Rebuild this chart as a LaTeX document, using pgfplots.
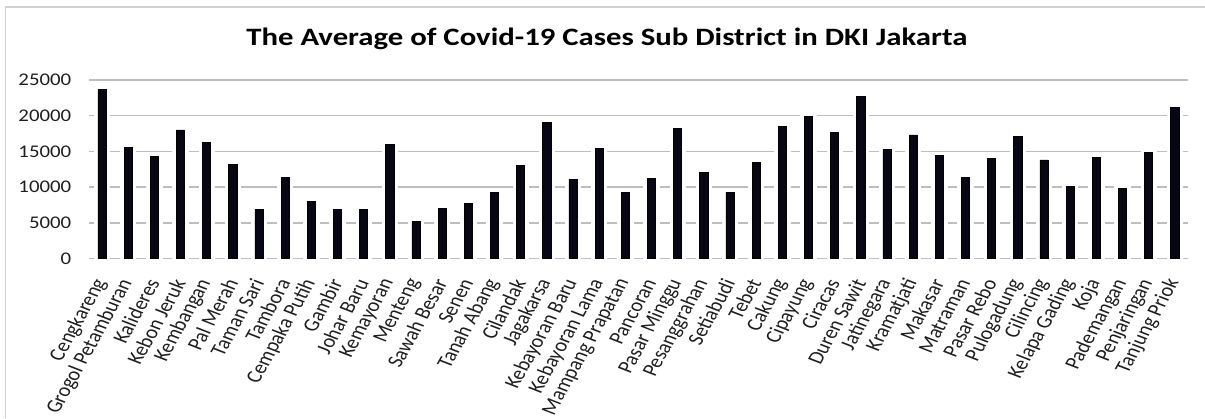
\documentclass[border=0pt]{standalone}
\usepackage{pgfplots}
\pgfplotsset{compat=1.18}
\usepackage{pgfplotstable}
\usepackage{fontspec}
\setmainfont{Carlito}

\definecolor{barfill}{RGB}{6,6,20}
\definecolor{gridgray}{RGB}{190,190,190}
\definecolor{framegray}{RGB}{208,208,208}
\definecolor{labelcol}{RGB}{30,30,30}

% average Covid-19 cases per sub district
\pgfplotstableread{
idx cases
0  23700
1  15600
2  14300
3  18000
4  16300
5  13200
6  6900
7  11400
8  8000
9  6900
10 6900
11 16000
12 5200
13 7000
14 7700
15 9300
16 13000
17 19100
18 11100
19 15400
20 9300
21 11200
22 18200
23 12100
24 9300
25 13500
26 18500
27 19950
28 17600
29 22700
30 15300
31 17300
32 14400
33 11350
34 14000
35 17150
36 13800
37 10150
38 14150
39 9750
40 14800
41 21150
}\cases

\begin{document}
\begin{tikzpicture}
\begin{axis}[
  scale only axis, width=1099pt, height=178.5pt,
  xmin=-0.5, xmax=41.5, ymin=0, ymax=25000,
  clip=false,
  axis line style={draw=none},
  major tick length=0pt,
  scaled y ticks=false,
  ymajorgrids, grid style={gridgray, line width=1.4pt},
  ytick={0,5000,10000,15000,20000,25000},
  yticklabels={0,5000,10000,15000,20000,25000},
  yticklabel style={xshift=-17.5pt, xscale=1.17, anchor=east, inner sep=0pt,
                    text=labelcol, font=\fontsize{17.8}{20}\selectfont},
  xtick={0,...,41},
  xticklabels={Cengkareng,Grogol Petamburan,Kalideres,Kebon Jeruk,Kembangan,
    Pal Merah,Taman Sari,Tambora,Cempaka Putih,Gambir,Johar Baru,Kemayoran,
    Menteng,Sawah Besar,Senen,Tanah Abang,Cilandak,Jagakarsa,Kebayoran Baru,
    Kebayoran Lama,Mampang Prapatan,Pancoran,Pasar Minggu,Pesanggrahan,
    Setiabudi,Tebet,Cakung,Cipayung,Ciracas,Duren Sawit,Jatinegara,Kramatjati,
    Makasar,Matraman,Pasar Rebo,Pulogadung,Cilincing,Kelapa Gading,Koja,
    Pademangan,Penjaringan,Tanjung Priok},
  xticklabel style={xshift=-1pt, yshift=-21.5pt, xscale=1.2, rotate=65,
                    anchor=east, inner sep=0pt, text=labelcol,
                    font=\fontsize{18.5}{20}\selectfont},
  ybar, bar width=8.3pt,
]
% white halo around each bar
\addplot[bar shift=0pt, fill=white, draw=white, line width=8pt]
  table[x=idx, y=cases] {\cases};
% bars
\addplot[bar shift=0pt, fill=barfill, draw=black, line width=0.8pt]
  table[x=idx, y=cases] {\cases};
% lower left corner of the whole chart area
\coordinate (chartsw) at ([xshift=-89pt, yshift=-159.5pt]rel axis cs:0,0);
\end{axis}
\pgfresetboundingbox
\begin{scope}[x=1pt, y=1pt, shift={(chartsw)}]
  \useasboundingbox (0,0) rectangle (1205,418);
  % light frame around the chart
  \draw[framegray, line width=1.5pt] (5.5,0) -- (5.5,411) -- (1205,411);
  % title
  \node[anchor=base, xscale=1.23, inner sep=0pt, text=black,
        font=\fontsize{25}{28}\selectfont\bfseries]
    at (607,372) {The Average of Covid-19 Cases Sub District in DKI Jakarta};
\end{scope}
\end{tikzpicture}
\end{document}
